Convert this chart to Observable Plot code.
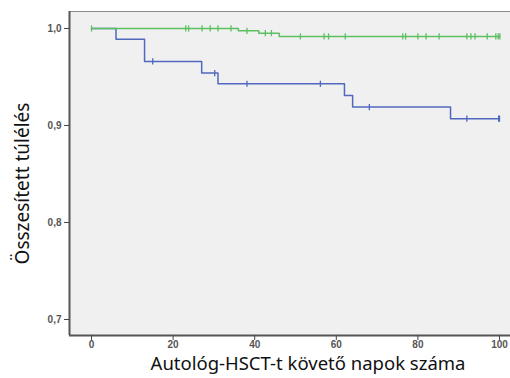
<!DOCTYPE html>
<html>
<head>
<meta charset="utf-8">
<script src="https://cdn.jsdelivr.net/npm/d3@7"></script>
<script src="https://cdn.jsdelivr.net/npm/@observablehq/plot@0.6"></script>
<style>
  html, body { margin: 0; padding: 0; background: #fff; }
</style>
</head>
<body>
<div id="chart"></div>
<script>
// Blue group: step times and survival
const blueTime = [0, 6, 13, 27, 31, 62, 64, 88, 100];
const blueSurv = [1.0, 0.989, 0.966, 0.954, 0.943, 0.931, 0.919, 0.907, 0.907];
const blueCensored = [15, 30.2, 38.1, 56.1, 68.1, 92, 99.8, 100];

// Green group
const greenTime = [0, 36, 41, 46, 100];
const greenSurv = [1.0, 0.9976, 0.9952, 0.9918, 0.9918];
const greenCensored = [0, 23.1, 23.8, 27.1, 29.1, 31, 34.2, 38.1, 42.6, 44.1, 51.2, 57, 58.1, 62.2,
  76.3, 77, 80, 82, 85.2, 92, 93, 94, 97, 99.1, 99.7, 100.1];

const xTicks = [0, 20, 40, 60, 80, 100];
const yTicks = [0.7, 0.8, 0.9, 1.0];
const xLabel = "Autológ-HSCT-t követő napok száma";
const yLabel = "Összesített túlélés";

const blueColor = "#5068bd";
const greenColor = "#5cbf62";

function survAt(times, surv, t) {
  let v = surv[0];
  for (let i = 0; i < times.length; i++) if (times[i] <= t) v = surv[i];
  return v;
}

const blueLine = blueTime.map((t, i) => ({t, s: blueSurv[i]}));
const greenLine = greenTime.map((t, i) => ({t, s: greenSurv[i]}));
const blueCens = blueCensored.map(t => ({t, s: survAt(blueTime, blueSurv, t)}));
const greenCens = greenCensored.map(t => ({t, s: survAt(greenTime, greenSurv, t)}));

const tickSymbol = {
  draw(ctx, size) {
    const h = Math.sqrt(size) / 2;
    ctx.moveTo(0, -h);
    ctx.lineTo(0, h);
  }
};

const xDom = [-5.4, 102.7];
const yDom = [0.6835, 1.0175];

const chart = Plot.plot({
  width: 510,
  height: 378,
  marginLeft: 69,
  marginRight: 0,
  marginTop: 11,
  marginBottom: 43,
  style: {fontFamily: "'Liberation Sans', Arial, sans-serif", background: "#fff", overflow: "visible"},
  x: {domain: xDom},
  y: {domain: yDom},
  marks: [
    Plot.frame({fill: "#f0f0f0", stroke: "#8a8a8a", strokeWidth: 1}),
    Plot.ruleX([xDom[0]], {stroke: "#555", strokeWidth: 2}),
    Plot.ruleY([yDom[0]], {stroke: "#555", strokeWidth: 2}),
    Plot.axisX({ticks: xTicks, tickSize: 5, tickPadding: 0, fontSize: 10, fontWeight: "bold", fill: "#555", stroke: "#444", label: null, tickFormat: d => String(d)}),
    Plot.axisY({ticks: yTicks, tickSize: 5, tickPadding: 3, fontSize: 10, fontWeight: "bold", fill: "#555", stroke: "#444", label: null, tickFormat: d => d.toFixed(1).replace(".", ",")}),
    Plot.line(blueLine, {x: "t", y: "s", curve: "step-after", stroke: blueColor, strokeWidth: 1.5}),
    Plot.line(greenLine, {x: "t", y: "s", curve: "step-after", stroke: greenColor, strokeWidth: 1.5}),
    Plot.dot(blueCens, {x: "t", y: "s", symbol: tickSymbol, r: 3.5, stroke: blueColor, fill: "none", strokeWidth: 1.3}),
    Plot.dot(greenCens, {x: "t", y: "s", symbol: tickSymbol, r: 3.5, stroke: greenColor, fill: "none", strokeWidth: 1.3}),
    Plot.text([yLabel], {frameAnchor: "left", textAnchor: "middle", lineAnchor: "middle", dx: -47, dy: 10, rotate: -90, fontSize: 19, fill: "#111", fontFamily: "'Noto Sans', sans-serif"}),
    Plot.text([xLabel], {frameAnchor: "bottom", textAnchor: "middle", lineAnchor: "bottom", dx: 18, dy: 34, fontSize: 18.5, fill: "#111", fontFamily: "'Noto Sans', sans-serif"})
  ]
});
document.getElementById("chart").appendChild(chart);
</script>
</body>
</html>
